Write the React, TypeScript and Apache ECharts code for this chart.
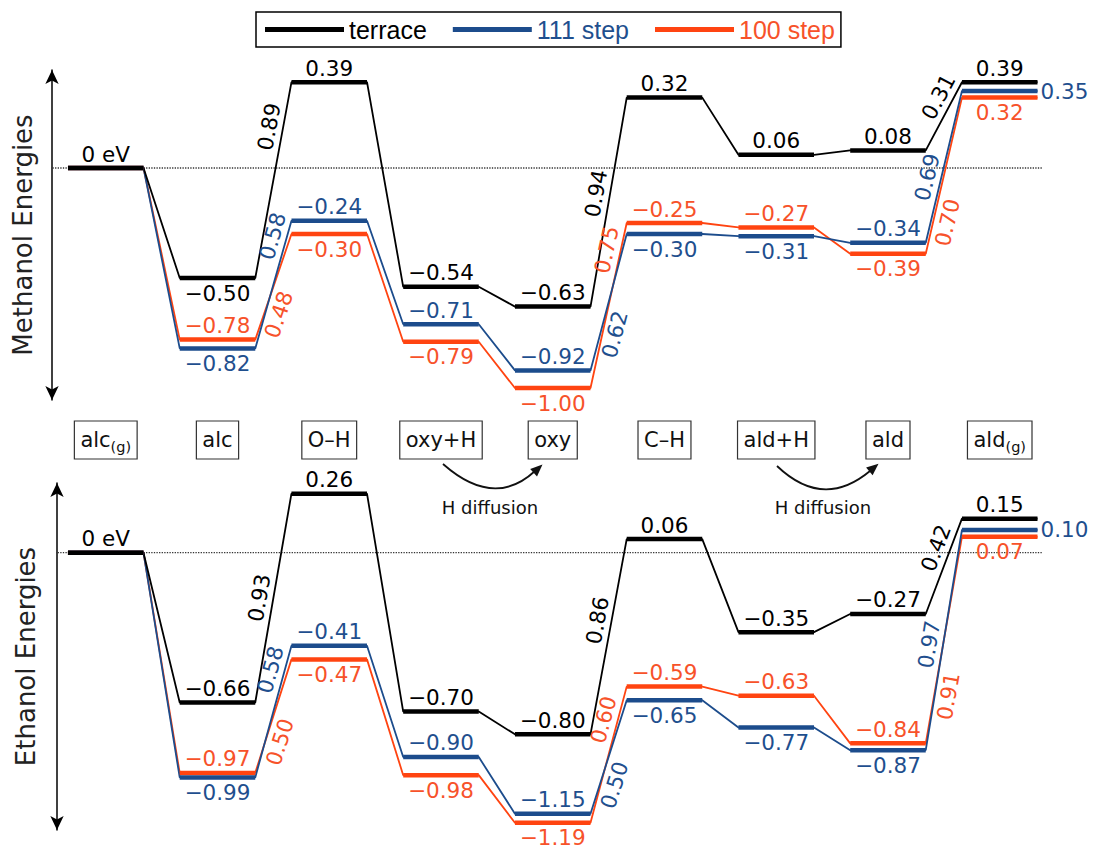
import React, { useEffect, useRef } from 'react';
import * as echarts from 'echarts';

// ---------- data ----------
const stateNames = ['alc', 'alc', 'O–H', 'oxy+H', 'oxy', 'C–H', 'ald+H', 'ald', 'ald'];
const stateSubs = ['(g)', '', '', '', '', '', '', '', '(g)'];
const seriesNames = ['terrace', '111 step', '100 step'];

const methanolTerrace = [0, -0.50, 0.39, -0.54, -0.63, 0.32, 0.06, 0.08, 0.39];
const methanol111 = [0, -0.82, -0.24, -0.71, -0.92, -0.30, -0.31, -0.34, 0.35];
const methanol100 = [0, -0.78, -0.30, -0.79, -1.00, -0.25, -0.27, -0.39, 0.32];

const ethanolTerrace = [0, -0.66, 0.26, -0.70, -0.80, 0.06, -0.35, -0.27, 0.15];
const ethanol111 = [0, -0.99, -0.41, -0.90, -1.15, -0.65, -0.77, -0.87, 0.10];
const ethanol100 = [0, -0.97, -0.47, -0.98, -1.19, -0.59, -0.63, -0.84, 0.07];

// barriers into O–H, C–H and ald(g)
const barrierStates = [2, 5, 8];
const methanolTerraceBarriers = [0.89, 0.94, 0.31];
const methanol111Barriers = [0.58, 0.62, 0.69];
const methanol100Barriers = [0.48, 0.75, 0.70];
const ethanolTerraceBarriers = [0.93, 0.86, 0.42];
const ethanol111Barriers = [0.58, 0.50, 0.97];
const ethanol100Barriers = [0.50, 0.60, 0.91];

// ---------- label layout ----------
// a = above, b = below, r = right, '' = none
const methanolTerracePos = ['a', 'b', 'a', 'a', 'a', 'a', 'a', 'a', 'a'];
const methanol111Pos = ['', 'b', 'a', 'a', 'a', 'b', 'b', 'a', 'r'];
const methanol100Pos = ['', 'a', 'b', 'b', 'b', 'a', 'a', 'b', 'b'];
const ethanolTerracePos = ['a', 'a', 'a', 'a', 'a', 'a', 'a', 'a', 'a'];
const ethanol111Pos = ['', 'b', 'a', 'a', 'a', 'b', 'b', 'b', 'r'];
const ethanol100Pos = ['', 'a', 'b', 'b', 'b', 'a', 'a', 'a', 'b'];

// [fraction along connector, side (-1 left, +1 right)]
const methanolTerracePlace = [[0.76, -1], [0.53, -1], [0.69, -1]];
const methanol111Place = [[0.85, -1], [0.29, 1], [0.41, -1]];
const methanol100Place = [[0.28, 1], [0.82, -1], [0.22, 1]];
const ethanolTerracePlace = [[0.49, -1], [0.57, -1], [0.64, -1]];
const ethanol111Place = [[0.79, -1], [0.29, 1], [0.47, -1]];
const ethanol100Place = [[0.31, 1], [0.73, -1], [0.24, 1]];

// ---------- styles ----------
const HW = 0.338; // half width of a level (x units)
const LINE = { terrace: '#000000', s111: '#1c4c8c', s100: '#ff4411' };
const TEXT = { terrace: '#000000', s111: '#1f4f8e', s100: '#f7522a' };
const FONT = 'DejaVu Sans';
const LFS = 21.5;
const zeroLineX = [-0.5, 8.38];

type SetDef = {
  name: string; line: string; text: string; values: number[]; pos: string[];
  barriers: number[]; place: number[][]; zeroLabel: boolean;
};

const fmt = (v: number) => (v < 0 ? '−' + Math.abs(v).toFixed(2) : v.toFixed(2));

function panelSeries(g: number, sets: SetDef[]): any[] {
  const out: any[] = [];
  out.push({
    type: 'line', xAxisIndex: g, yAxisIndex: g, silent: true, symbol: 'none', z: 1,
    data: zeroLineX.map((x) => [x, 0]),
    lineStyle: { color: '#333', width: 1.3, type: 'dotted' },
  });
  for (const s of sets) {
    out.push({
      type: 'line', name: s.name, xAxisIndex: g, yAxisIndex: g, silent: true, symbol: 'none', z: 2,
      data: s.values.flatMap((v, i) => [[i - HW, v], [i + HW, v]]),
      itemStyle: { color: s.line },
      lineStyle: { color: s.line, width: 1.8 },
    });
  }
  for (const s of sets) {
    out.push({
      type: 'custom', name: s.name, xAxisIndex: g, yAxisIndex: g, silent: true, z: 3, clip: false,
      encode: { x: 0, y: 1 },
      itemStyle: { color: s.line },
      data: s.values.map((v, i) => [i, v]),
      renderItem: (params: any, api: any) => {
        const i = api.value(0);
        const v = api.value(1);
        const p1 = api.coord([i - HW, v]);
        const p2 = api.coord([i + HW, v]);
        const children: any[] = [
          { type: 'line', shape: { x1: p1[0], y1: p1[1], x2: p2[0], y2: p2[1] }, style: { stroke: s.line, lineWidth: 4.5 } },
        ];
        const pos = s.pos[i];
        const txt = i === 0 && s.zeroLabel ? '0 eV' : fmt(v);
        const cx = (p1[0] + p2[0]) / 2;
        if (pos) {
          let x = cx, y = p1[1], align = 'center', va = 'bottom';
          if (pos === 'a') { y = p1[1] - 3; va = 'bottom'; }
          else if (pos === 'b') { y = p1[1] + 4; va = 'top'; }
          else { x = p2[0] + 3; align = 'left'; va = 'middle'; }
          children.push({
            type: 'text', x, y,
            style: { text: txt, fill: s.text, fontSize: LFS, fontFamily: FONT, align, verticalAlign: va },
          });
        }
        return { type: 'group', children };
      },
    });
  }
  for (const s of sets) {
    out.push({
      type: 'custom', name: s.name, xAxisIndex: g, yAxisIndex: g, silent: true, z: 4, clip: false,
      encode: { x: 0, y: 1 },
      itemStyle: { color: s.line },
      data: s.barriers.map((b, k) => [barrierStates[k], b]),
      renderItem: (params: any, api: any) => {
        const k = params.dataIndex;
        const to = barrierStates[k];
        const from = to - 1;
        const a = api.coord([from + HW, s.values[from]]);
        const b = api.coord([to - HW, s.values[to]]);
        const [f, side] = s.place[k];
        const dx = b[0] - a[0], dy = b[1] - a[1];
        const len = Math.hypot(dx, dy) || 1;
        const nx = dy / len, ny = -dx / len;
        const sg = side < 0 ? 1 : -1;
        const off = 14;
        const x = a[0] + f * dx + sg * off * nx;
        const y = a[1] + f * dy + sg * off * ny;
        return {
          type: 'text', x, y, rotation: Math.atan2(-dy, dx),
          style: { text: fmt(api.value(1)), fill: s.text, fontSize: LFS, fontFamily: FONT, align: 'center', verticalAlign: 'middle' },
        };
      },
    });
  }
  return out;
}

const methanolSets: SetDef[] = [
  { name: seriesNames[2], line: LINE.s100, text: TEXT.s100, values: methanol100, pos: methanol100Pos, barriers: methanol100Barriers, place: methanol100Place, zeroLabel: false },
  { name: seriesNames[1], line: LINE.s111, text: TEXT.s111, values: methanol111, pos: methanol111Pos, barriers: methanol111Barriers, place: methanol111Place, zeroLabel: false },
  { name: seriesNames[0], line: LINE.terrace, text: TEXT.terrace, values: methanolTerrace, pos: methanolTerracePos, barriers: methanolTerraceBarriers, place: methanolTerracePlace, zeroLabel: true },
];
const ethanolSets: SetDef[] = [
  { name: seriesNames[2], line: LINE.s100, text: TEXT.s100, values: ethanol100, pos: ethanol100Pos, barriers: ethanol100Barriers, place: ethanol100Place, zeroLabel: false },
  { name: seriesNames[1], line: LINE.s111, text: TEXT.s111, values: ethanol111, pos: ethanol111Pos, barriers: ethanol111Barriers, place: ethanol111Place, zeroLabel: false },
  { name: seriesNames[0], line: LINE.terrace, text: TEXT.terrace, values: ethanolTerrace, pos: ethanolTerracePos, barriers: ethanolTerraceBarriers, place: ethanolTerracePlace, zeroLabel: true },
];

// H diffusion annotation geometry (pixels)
const diffusionArrows = [
  { p0: [443, 464], c: [494, 509], p2: [535, 471], tip: [[542.5, 464.6], [537, 476.4], [530.2, 469.1]], label: [490, 507] },
  { p0: [777, 466], c: [823, 510], p2: [870, 471], tip: [[878.5, 463.7], [872.6, 475.3], [866.1, 467.6]], label: [823, 507] },
];

function yAxisDef(g: number, name: string, min: number, max: number, gap: number) {
  return {
    type: 'value', gridIndex: g, min, max, name, nameLocation: 'middle', nameGap: gap,
    nameTextStyle: { fontFamily: FONT, fontSize: 26, color: '#222' },
    axisLine: { show: true, onZero: false, symbol: ['arrow', 'arrow'], symbolSize: [10, 14], lineStyle: { color: '#000', width: 1.5 } },
    axisTick: { show: false }, axisLabel: { show: false }, splitLine: { show: false },
  };
}

export default function App() {
  const ref = useRef<HTMLDivElement>(null);
  useEffect(() => {
    if (!ref.current) return;
    const chart = echarts.init(ref.current, undefined, { renderer: 'svg' });
    const graphic: any[] = [];
    diffusionArrows.forEach((d) => {
      graphic.push({
        type: 'bezierCurve',
        shape: { x1: d.p0[0], y1: d.p0[1], x2: d.p2[0], y2: d.p2[1], cpx1: d.c[0], cpy1: d.c[1] },
        style: { stroke: '#111', lineWidth: 1.8, fill: 'none' },
      });
      graphic.push({ type: 'polygon', shape: { points: d.tip }, style: { fill: '#111' } });
      graphic.push({
        type: 'text', x: d.label[0], y: d.label[1],
        style: { text: 'H diffusion', fontSize: 18, fontFamily: FONT, fill: '#111', align: 'center', verticalAlign: 'middle' },
      });
    });
    const option: any = {
      animation: false,
      backgroundColor: '#fff',
      legend: {
        left: 256, top: 12, orient: 'horizontal', icon: 'rect',
        itemWidth: 79, itemHeight: 5, itemGap: 26, padding: [5, 6, 5, 9],
        borderColor: '#000', borderWidth: 1.5, selectedMode: false,
        textStyle: { fontFamily: 'Liberation Sans', fontSize: 25 },
        data: [
          { name: seriesNames[0], textStyle: { color: TEXT.terrace } },
          { name: seriesNames[1], textStyle: { color: TEXT.s111 } },
          { name: seriesNames[2], textStyle: { color: TEXT.s100 } },
        ],
      },
      grid: [
        { left: 52, right: 42.4, top: 70, height: 330 },
        { left: 57, right: 42.4, top: 483, height: 347 },
      ],
      xAxis: [
        {
          type: 'value', gridIndex: 0, min: -0.481, max: 8.5,
          axisLine: { show: false }, axisTick: { show: false }, splitLine: { show: false },
          axisLabel: {
            show: true,
            customValues: stateNames.map((_, i) => i),
            margin: 21,
            borderColor: '#333', borderWidth: 1.2, padding: [5, 6, 5, 6],
            fontFamily: FONT, fontSize: 21, lineHeight: 28, color: '#111',
            formatter: (v: number) => {
              const i = Math.round(v);
              if (Math.abs(v - i) > 1e-6 || i < 0 || i >= stateNames.length) return '';
              return '{m|' + stateNames[i] + '}' + (stateSubs[i] ? '{s|' + stateSubs[i] + '}' : '');
            },
            rich: {
              m: { fontFamily: FONT, fontSize: 21, lineHeight: 28, color: '#111' },
              s: { fontFamily: FONT, fontSize: 14.5, lineHeight: 14, verticalAlign: 'bottom', color: '#111' },
            },
          },
        },
        { type: 'value', gridIndex: 1, min: -0.436, max: 8.5, show: false, splitLine: { show: false } },
      ],
      yAxis: [
        yAxisDef(0, 'Methanol Energies', -1.0545, 0.4455, 16),
        yAxisDef(1, 'Ethanol Energies', -1.2216, 0.307, 18),
      ],
      graphic,
      series: [...panelSeries(0, methanolSets), ...panelSeries(1, ethanolSets)],
    };
    chart.setOption(option);
    return () => chart.dispose();
  }, []);
  return <div ref={ref} style={{ position: 'absolute', left: 0, top: 0, width: 1098, height: 852 }} />;
}
